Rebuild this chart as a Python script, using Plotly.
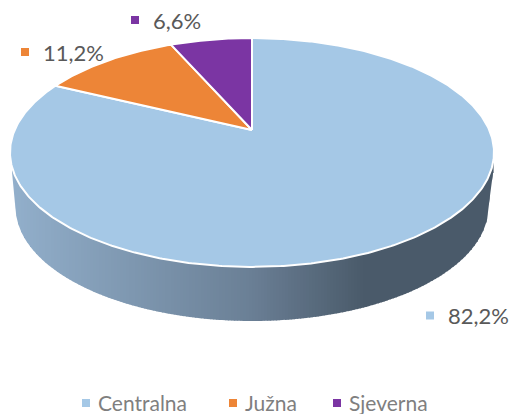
import numpy as np
import plotly.graph_objects as go

categories = ["Centralna", "Južna", "Sjeverna"]
values = [82.2, 11.2, 6.6]

colors = ["#A5C8E6", "#ED8537", "#7B35A3"]
TEXT = "#595959"
LEGEND_TEXT = "#7F7F7F"
FONT = "Lato"
W, H = 513, 414

# perspective projection of the pie's unit circle on to the page
APEX_X, APEX_Y = 252, 130
SX, SY, K = 237.3, 110.0, 0.1965
# lower rim of the pie's wall
RIM_CY, RIM_A, RIM_B = 207, 236.5, 114

label_pos = [(430, 315.5), (25, 52), (135, 20)]
legend_pos = [(86, 403), (233, 403), (337, 403)]
LEGEND_TEXT_Y = 402


def project(theta):
    u, v = np.sin(theta), np.cos(theta)
    d = 1 + K * v
    return APEX_X + SX * u / d, APEX_Y - SY * v / d


fig = go.Figure()

# wall, drawn as vertical strips shaded across the x axis
TOP_CY, TOP_A, TOP_B = 152.5, 242, 114.5
ramp_x = [10, 250, 365, 494]
ramp_c = np.array([[147, 176, 204], [107, 128, 150], [74, 90, 106], [74, 90, 106]], float)
edges = np.arange(12, 494, 3.0)
edges = np.append(edges, 493)
for x0, x1 in zip(edges[:-1], edges[1:]):
    xs = np.linspace(x0, x1 + 0.6, 4)
    upper = TOP_CY + TOP_B * np.sqrt(np.clip(1 - ((xs - APEX_X) / TOP_A) ** 2, 0, 1)) - 2
    rim = RIM_CY + RIM_B * np.sqrt(np.clip(1 - ((xs - APEX_X) / RIM_A) ** 2, 0, 1))
    left = np.interp(xs, [12, 15.5], [172, 207])
    right = np.interp(xs, [488.5, 493], [207, 173])
    lower = np.where(xs < 15.5, left, np.where(xs > 488.5, right, rim))
    xm = (x0 + x1) / 2
    c = [int(np.interp(xm, ramp_x, ramp_c[:, i])) for i in range(3)]
    col = f"rgb({c[0]},{c[1]},{c[2]})"
    fig.add_trace(go.Scatter(
        x=np.r_[xs, xs[::-1]], y=np.r_[upper, lower[::-1]],
        mode="lines", fill="toself", fillcolor=col, line=dict(width=0),
        hoverinfo="skip", showlegend=False))

# slices, clockwise from twelve o'clock
total = sum(values)
start = 0.0
for name, val, col in zip(categories, values, colors):
    end = start + val / total * 2 * np.pi
    th = np.linspace(start, end, max(int(val * 6), 24))
    px, py = project(th)
    fig.add_trace(go.Scatter(
        x=np.r_[APEX_X, px, APEX_X], y=np.r_[APEX_Y, py, APEX_Y],
        mode="lines", fill="toself", fillcolor=col,
        line=dict(color="white", width=2), name=name,
        hoverinfo="name", showlegend=False))
    start = end

# data labels
for val, col, (x, y) in zip(values, colors, label_pos):
    fig.add_trace(go.Scatter(
        x=[x], y=[y], mode="markers", marker=dict(symbol="square", size=8, color=col),
        hoverinfo="skip", showlegend=False))
    fig.add_annotation(x=x + 16, y=y, text=f"{val:.1f}%".replace(".", ","), showarrow=False,
                       xanchor="left", yanchor="middle", font=dict(family=FONT, size=22, color=TEXT))

# legend
for name, col, (x, y) in zip(categories, colors, legend_pos):
    fig.add_trace(go.Scatter(
        x=[x], y=[y], mode="markers", marker=dict(symbol="square", size=8, color=col),
        hoverinfo="skip", showlegend=False))
    fig.add_annotation(x=x + 11, y=LEGEND_TEXT_Y, text=name, showarrow=False, borderpad=0,
                       xanchor="left", yanchor="middle", font=dict(family=FONT, size=21, color=LEGEND_TEXT))

fig.update_layout(
    width=W, height=H, margin=dict(l=0, r=0, t=0, b=0),
    paper_bgcolor="white", plot_bgcolor="white", showlegend=False,
    xaxis=dict(range=[0, W], visible=False, fixedrange=True),
    yaxis=dict(range=[H, 0], visible=False, fixedrange=True),
)
fig.write_html("out.html", config={"displayModeBar": False},
               post_script="document.body.style.margin='0';document.body.style.overflow='hidden';")
